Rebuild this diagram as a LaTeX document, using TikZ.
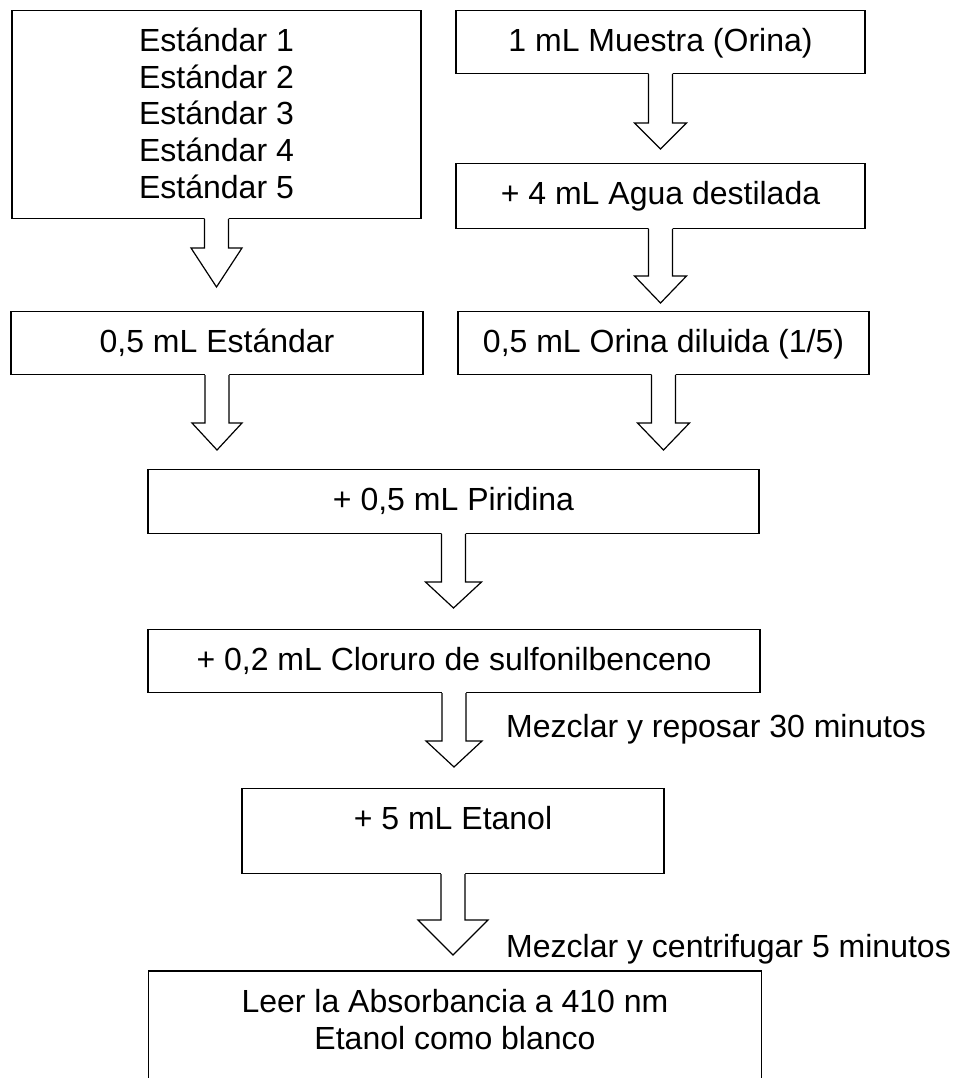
\documentclass[tikz,border=0pt]{standalone}
\usepackage{fontspec}
\setmainfont{Liberation Sans}
\usepackage{tikz}
\usetikzlibrary{calc}
% flecha hueca: origen, destino, hueco, largo punta, media anchura punta
\newcommand{\flecha}[5]{%
  \path (#1.south) coordinate (fa)
        ($(#1.south |- #2.north)+(0,-#3)$) coordinate (fp)
        ($(fp)+(0,-#4)$) coordinate (fb);
  \fill[white] ($(fa)+(-\sw,-2)$) -- ($(fb)+(-\sw,0)$) -- ($(fb)+(-#5,0)$) -- (fp)
        -- ($(fb)+(#5,0)$) -- ($(fb)+(\sw,0)$) -- ($(fa)+(\sw,-2)$) -- cycle;
  \draw[linea] ($(fa)+(-\sw,0)$) -- ($(fb)+(-\sw,0)$) -- ($(fb)+(-#5,0)$) -- (fp)
        -- ($(fb)+(#5,0)$) -- ($(fb)+(\sw,0)$) -- ($(fa)+(\sw,0)$);
}

\begin{document}
\begin{tikzpicture}[x=1pt,y=-1pt,
    linea/.style={line width=1.2pt,line join=miter},
    caja/.style={draw,linea,anchor=north,inner sep=0pt,align=center,
      text height=41pt,font=\fontsize{32}{36.7}\selectfont},
    nota/.style={anchor=base west,inner sep=0pt,font=\fontsize{32}{36.7}\selectfont}]
  \def\sw{12}
  \useasboundingbox (0,0) rectangle (956,1078);
  % cajas
  \node[caja,minimum width=409pt,text height=187.8pt,text depth=20.2pt] (c1) at (216.5,10)
    {Estándar 1\\Estándar 2\\Estándar 3\\Estándar 4\\Estándar 5};
  \node[caja,minimum width=409pt,text depth=22pt] (c2) at (660.5,10) {1 mL Muestra (Orina)};
  \node[caja,minimum width=409pt,text depth=24pt] (c3) at (660.5,163) {+ 4 mL Agua destilada};
  \node[caja,minimum width=412pt,text depth=22pt] (c4) at (217,311) {0,5 mL Estándar};
  \node[caja,minimum width=411pt,text depth=22pt] (c5) at (663.5,311) {0,5 mL Orina diluida (1/5)};
  \node[caja,minimum width=611pt,text depth=23pt] (c6) at (453.5,469) {+ 0,5 mL Piridina};
  \node[caja,minimum width=612pt,text depth=22pt] (c7) at (454,629) {+ 0,2 mL Cloruro de sulfonilbenceno};
  \node[caja,minimum width=422pt,text depth=44pt] (c8) at (453,788) {+ 5 mL Etanol};
  \node[caja,draw=none,minimum width=612pt,text height=77.7pt,text depth=41pt] (c9) at (455,971)
    {Leer la Absorbancia a 410 nm\\Etanol como blanco};
  \draw[linea] (c9.south west) -- (c9.north west) -- (c9.north east) -- (c9.south east);
  % flechas
  \flecha{c1}{c4}{24}{39}{25.5}
  \flecha{c2}{c3}{14}{26}{26}
  \flecha{c3}{c5}{8}{27}{26}
  \flecha{c4}{c6}{19}{27}{25}
  \flecha{c5}{c6}{19}{27}{26}
  \flecha{c6}{c7}{21}{26}{28}
  \flecha{c7}{c8}{21}{26}{28}
  \flecha{c8}{c9}{16}{35}{35}
  % notas
  \node[nota] (m1) at (506,737) {Mezclar y reposar 30 minutos};
  \node[nota] (m2) at (506,957) {Mezclar y centrifugar 5 minutos};
\end{tikzpicture}
\end{document}
